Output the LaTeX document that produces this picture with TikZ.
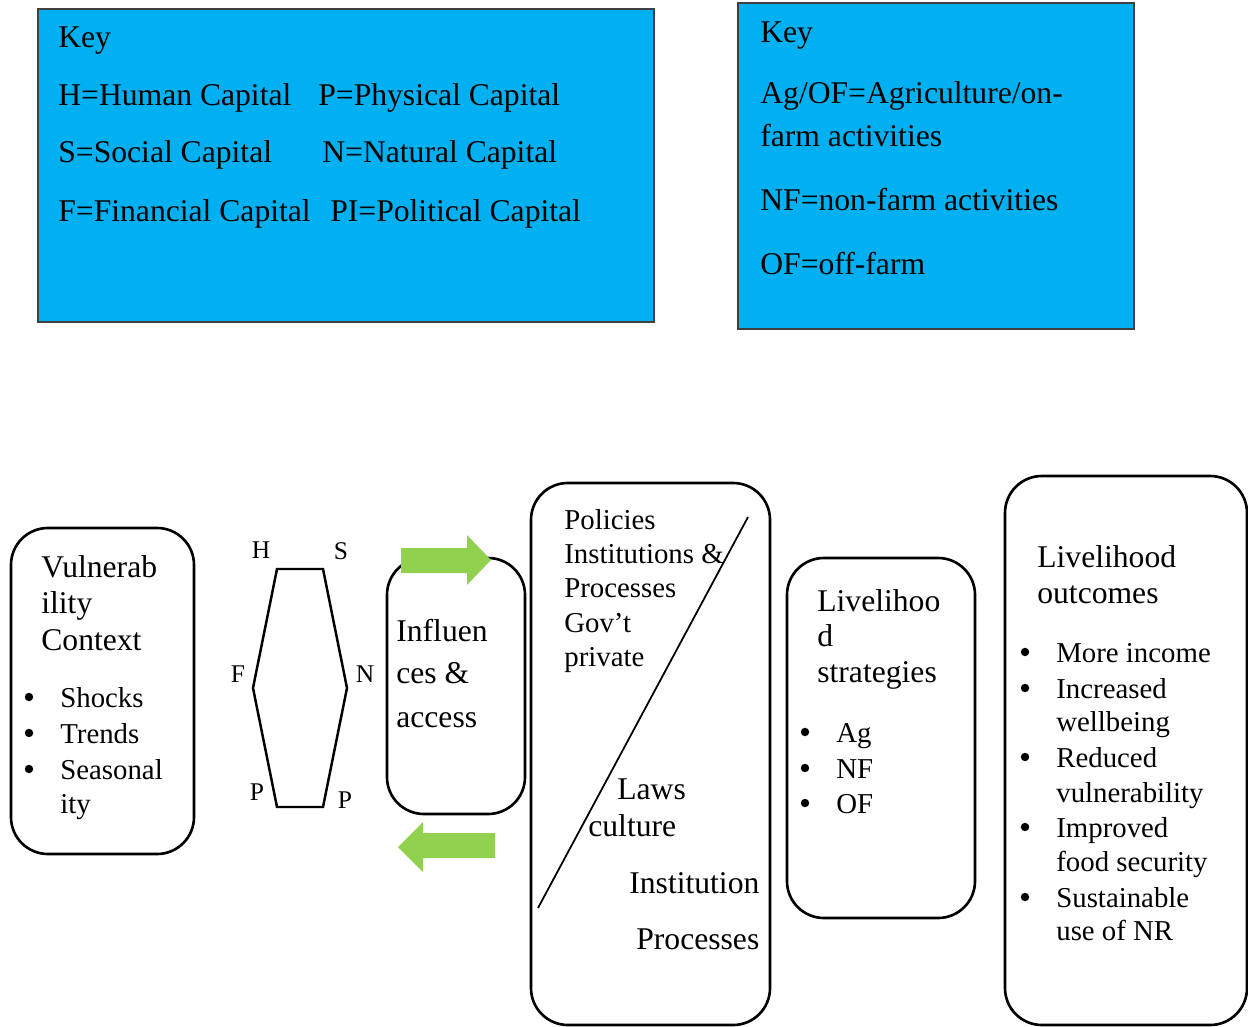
\documentclass[tikz,border=0pt]{standalone}
\usepackage{fontspec}
\setmainfont{Liberation Serif}
\usetikzlibrary{positioning}
\definecolor{keyblue}{HTML}{00B0F0}
\definecolor{arrowgreen}{HTML}{92D050}

\begin{document}
\begin{tikzpicture}[x=0.02cm, y=-0.02cm,
    txt/.style={anchor=base west, inner sep=0pt, font=\fontsize{18}{20}\selectfont},
    smalltxt/.style={txt, font=\fontsize{16.4}{19}\selectfont},
    caplbl/.style={anchor=center, inner sep=0pt, font=\fontsize{14.5}{16}\selectfont},
    bul/.style={circle, fill=black, inner sep=0pt, minimum size=4.8pt},
    keybox/.style={fill=keyblue, draw=black!75, line width=0.6pt},
    roundbox/.style={draw=black, line width=1.5pt, rounded corners=21pt},
    bigarrow/.style={fill=arrowgreen, draw=none}]

    \useasboundingbox (0,0) rectangle (1248,1027);

    % key boxes
    \draw[keybox] (38,9) rectangle (654,322);
    \draw[keybox] (738,3) rectangle (1134,329);

    \node[txt] (keyA) at (58,48) {Key};
    \node[txt] (hcap) at (58,106) {H=Human Capital};
    \node[txt] (pcap) at (318,106) {P=Physical Capital};
    \node[txt] (scap) at (58,163) {S=Social Capital};
    \node[txt] (ncap) at (322,163) {N=Natural Capital};
    \node[txt] (fcap) at (58,222) {F=Financial Capital};
    \node[txt] (picap) at (330,222) {PI=Political Capital};

    \node[txt] (keyB) at (760,43) {Key};
    \node[txt] (agof) at (760,104) {Ag/OF=Agriculture/on-};
    \node[txt] (farm) at (760,147) {farm activities};
    \node[txt] (nf) at (760,211) {NF=non-farm activities};
    \node[txt] (of) at (760,275) {OF=off-farm};

    % vulnerability context
    \draw[roundbox] (11,528) rectangle (194,854);
    \foreach \t/\yy [count=\i] in {Vulnerab/577, ility/613, Context/650}
        \node[txt] (vul\i) at (41,\yy) {\t};
    \foreach \t/\yy [count=\i] in {Shocks/707, Trends/743, Seasonal/779}
    {
        \node[bul] (vdot\i) at (29,\yy-10) {};
        \node[smalltxt] (vitem\i) at (60,\yy) {\t};
    }
    \node[smalltxt] (vitem4) at (60,813) {ity};

    % capitals hexagon
    \coordinate (hH) at (277,569);
    \coordinate (hS) at (323,569);
    \coordinate (hN) at (347,688);
    \coordinate (hPr) at (323,807);
    \coordinate (hPl) at (277,807);
    \coordinate (hF) at (253,688);
    \draw[line width=1.4pt, line join=miter] (hH) -- (hS) -- (hN) -- (hPr) -- (hPl) -- (hF) -- cycle;
    \node[caplbl] (lH) at (261,550) {H};
    \node[caplbl] (lS) at (341,551) {S};
    \node[caplbl] (lF) at (238,674) {F};
    \node[caplbl] (lN) at (365,674) {N};
    \node[caplbl] (lPl) at (257,792) {P};
    \node[caplbl] (lPr) at (345,800) {P};

    % influences and access
    \draw[roundbox] (387,558) rectangle (525,814);
    \node[txt] (inf1) at (396,641) {Influen};
    \node[txt] (inf2) at (396,683) {ces \&};
    \node[txt] (inf3) at (396,727) {access};

    % green block arrows
    \fill[bigarrow] (401,548) -- (467,548) -- (467,535) -- (491,560)
        -- (467,585) -- (467,573) -- (401,573) -- cycle;
    \fill[bigarrow] (495,833) -- (423,833) -- (423,822) -- (398,847)
        -- (423,872) -- (423,858) -- (495,858) -- cycle;

    % policies, institutions and processes
    \draw[roundbox] (531,483) rectangle (770,1025);
    \foreach \t/\yy [count=\i] in {Policies/529, Institutions \&/563, Processes/597, Gov’t/632, private/666}
        \node[smalltxt] (pol\i) at (564,\yy) {\t};
    \draw[line width=1pt] (748,517) -- (538,908);
    \node[txt] (laws) at (617,799) {Laws};
    \node[txt] (cult) at (588,836) {culture};
    \node[txt] (inst) at (629,893) {Institution};
    \node[txt] (proc) at (636,949) {Processes};

    % livelihood strategies
    \draw[roundbox] (787,558) rectangle (975,918);
    \foreach \t/\yy [count=\i] in {Livelihoo/611, d/646, strategies/682}
        \node[txt] (str\i) at (817,\yy) {\t};
    \foreach \t/\yy [count=\i] in {Ag/742, NF/778, OF/813}
    {
        \node[bul] (sdot\i) at (805,\yy-10) {};
        \node[smalltxt] (sitem\i) at (836,\yy) {\t};
    }

    % livelihood outcomes
    \draw[roundbox] (1005,476) rectangle (1247,1025);
    \node[txt] (out1) at (1037,567) {Livelihood};
    \node[txt] (out2) at (1037,603) {outcomes};
    \foreach \yy [count=\i] in {662, 698, 767, 837, 907}
        \node[bul] (odot\i) at (1025,\yy-10) {};
    \foreach \t/\yy [count=\i] in {More income/662, Increased/698, wellbeing/731,
        Reduced/767, vulnerability/802, Improved/837, food security/871,
        Sustainable/907, use of NR/940}
        \node[smalltxt] (oitem\i) at (1056,\yy) {\t};

\end{tikzpicture}
\end{document}
